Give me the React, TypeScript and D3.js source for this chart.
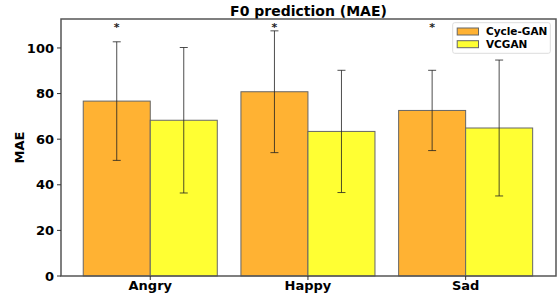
import React from "react";
import * as d3 from "d3";

const categories = ["Angry", "Happy", "Sad"];
const seriesNames = ["Cycle-GAN", "VCGAN"];
const cycleGanMae = [76.7, 80.8, 72.6];
const cycleGanErr = [26.0, 26.7, 17.6];
const vcganMae = [68.3, 63.4, 64.9];
const vcganErr = [31.9, 26.8, 29.8];
const starred = [true, true, true];
const yTicks = [0, 20, 40, 60, 80, 100];

const colors = ["#FFB233", "#FFFF33"];
const font = "DejaVu Sans, sans-serif";

const W = 559, H = 293;
const margin = { top: 19, right: 3, bottom: 17, left: 61 };

export default function App() {
  const innerW = W - margin.left - margin.right;
  const innerH = H - margin.top - margin.bottom;

  const x = d3.scaleLinear().domain([-0.566, 2.573]).range([0, innerW]);
  const y = d3.scaleLinear().domain([0, 112.7]).range([innerH, 0]);
  const barW = 0.425;

  const series = [
    { name: seriesNames[0], vals: cycleGanMae, errs: cycleGanErr, off: -barW / 2 },
    { name: seriesNames[1], vals: vcganMae, errs: vcganErr, off: barW / 2 },
  ];

  return (
    <svg width={W} height={H} style={{ position: "absolute", left: 0, top: 0 }} fontFamily={font}>
      <text x={margin.left + innerW / 2} y={15.5} textAnchor="middle" fontSize={14} fontWeight="bold">
        F0 prediction (MAE)
      </text>
      <text transform={`translate(24,${margin.top + innerH / 2}) rotate(-90)`} textAnchor="middle"
        fontSize={13} fontWeight="bold">MAE</text>
      <g transform={`translate(${margin.left},${margin.top})`}>
        {series.map((s, si) =>
          categories.map((c, i) => {
            const x0 = x(i + s.off - barW / 2);
            const x1 = x(i + s.off + barW / 2);
            return (
              <rect key={c + si} x={x0} y={y(s.vals[i])} width={x1 - x0} height={innerH - y(s.vals[i])}
                fill={colors[si]} stroke="#666" strokeWidth={1} />
            );
          })
        )}
        {series.map((s, si) =>
          categories.map((c, i) => {
            const cx = x(i + s.off);
            const top = y(s.vals[i] + s.errs[i]);
            const bot = y(s.vals[i] - s.errs[i]);
            return (
              <g key={"e" + c + si} stroke="#222" strokeOpacity={0.8} strokeWidth={1}>
                <line x1={cx} x2={cx} y1={top} y2={bot} />
                <line x1={cx - 4} x2={cx + 4} y1={top} y2={top} />
                <line x1={cx - 4} x2={cx + 4} y1={bot} y2={bot} />
              </g>
            );
          })
        )}
        {categories.map((c, i) =>
          starred[i] ? (
            <text key={"s" + c} x={x(i + series[0].off)} y={y(107.5)} textAnchor="middle" fontSize={11}
              fontWeight="bold" fill="#222">*</text>
          ) : null
        )}
        <rect x={0} y={0} width={innerW} height={innerH} fill="none" stroke="#555" strokeWidth={1.5} />
        {yTicks.map((t) => (
          <g key={t} transform={`translate(0,${y(t)})`}>
            <line x1={-4} x2={0} stroke="#333" />
            <text x={-7} dy="0.35em" textAnchor="end" fontSize={13} fontWeight="bold">{t}</text>
          </g>
        ))}
        {categories.map((c, i) => (
          <g key={"x" + c} transform={`translate(${x(i)},${innerH})`}>
            <line y1={0} y2={4} stroke="#333" />
            <text y={14} textAnchor="middle" fontSize={13} fontWeight="bold">{c}</text>
          </g>
        ))}
        <g transform={`translate(${452.7 - margin.left},${22.7 - margin.top})`}>
          <rect width={97.6} height={30.6} rx={2} fill="#fff" fillOpacity={0.8} stroke="#ddd" />
          {seriesNames.map((n, i) => (
            <g key={n} transform={`translate(4.5,${5.3 + i * 12.7})`}>
              <rect width={21.3} height={7} fill={colors[i]} stroke="#666" />
              <text x={28.8} y={7} fontSize={10.5} fontWeight="bold">{n}</text>
            </g>
          ))}
        </g>
      </g>
    </svg>
  );
}
